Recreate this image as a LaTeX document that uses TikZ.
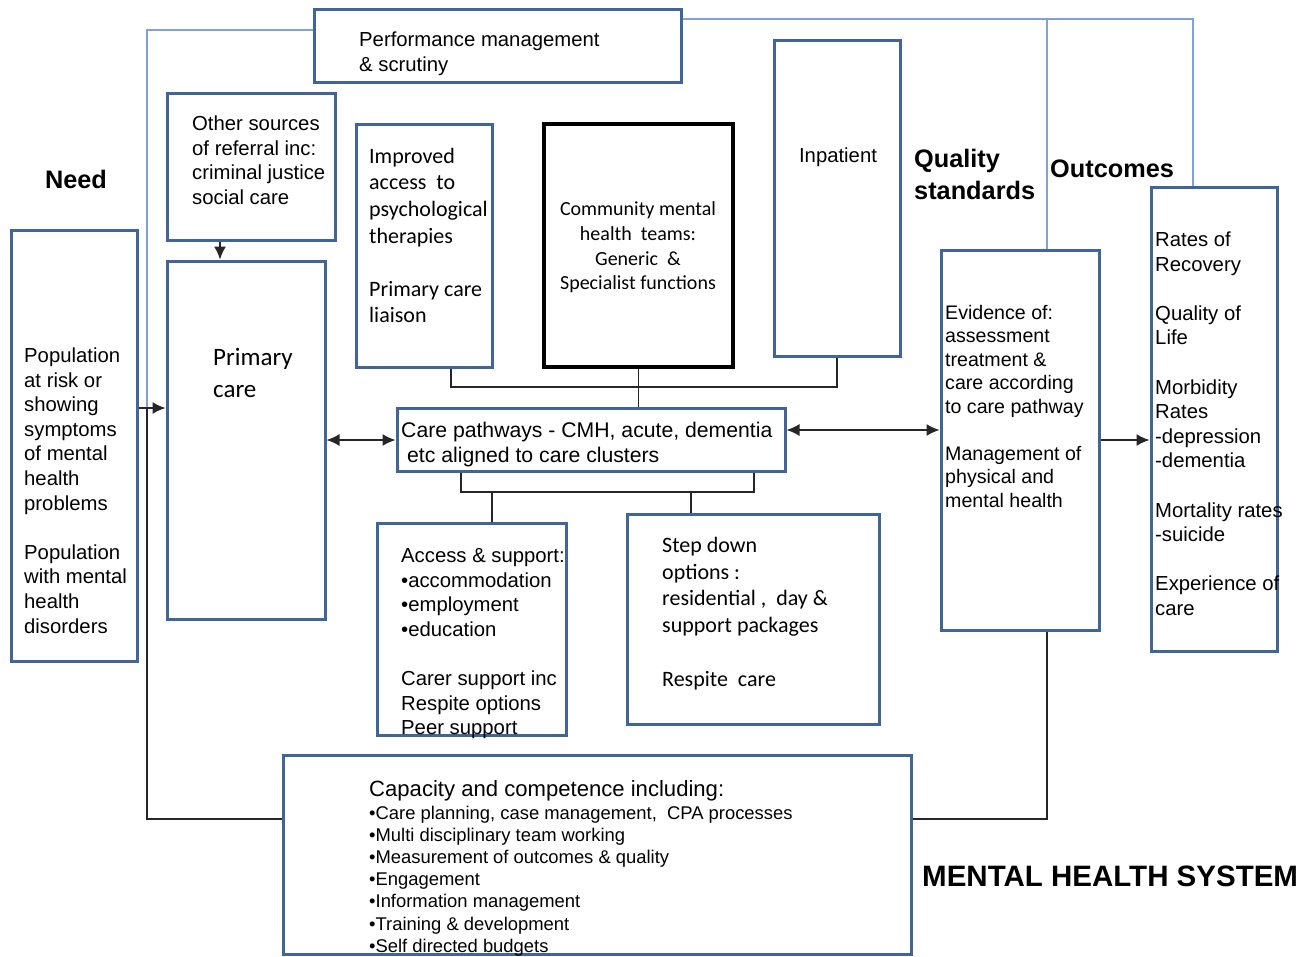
\documentclass[tikz,border=0pt]{standalone}
\usepackage{fontspec}
\setmainfont{Liberation Sans}
\newfontfamily\carl{Carlito}
\usetikzlibrary{arrows.meta}
\definecolor{boxblue}{HTML}{41659A}
\definecolor{lblue}{HTML}{7FA3D6}
\definecolor{connc}{HTML}{262626}
\newcommand{\mystrut}{\rule{0pt}{.75em}}
\begin{document}
\begin{tikzpicture}[x=1pt,y=-1pt,
  bx/.style={draw=boxblue,line width=3pt,inner sep=0pt},
  txt/.style={inner sep=0pt,align=left,anchor=north west},
  conn/.style={draw=connc,line width=1.4pt},
  lb/.style={draw=lblue,line width=1.3pt},
  arr/.style={conn,-{Latex[length=13pt,width=12pt]}},
  darr/.style={conn,{Latex[length=13pt,width=12pt]}-{Latex[length=13pt,width=12pt]}},
  fa/.style={font={\fontsize{20.3pt}{24.6pt}\selectfont}},
  hd/.style={font={\fontsize{25.3pt}{32pt}\selectfont\bfseries}}]
\useasboundingbox (0,0) rectangle (1308,956);
\fill[white] (0,0) rectangle (1308,956);

% boxes
\node[bx,minimum width=367pt,minimum height=73pt] (perf) at (497.5,45.5) {};
\node[bx,minimum width=126pt,minimum height=431pt] (pop) at (74,445.5) {};
\node[bx,minimum width=168pt,minimum height=147pt] (other) at (251,166.5) {};
\node[bx,minimum width=158pt,minimum height=358pt] (primary) at (246,440) {};
\node[bx,minimum width=136pt,minimum height=243pt] (iapt) at (424,245.5) {};
\node[draw=black,line width=3.5pt,inner sep=0pt,minimum width=189pt,minimum height=243pt] (cmht) at (638.5,245.5) {};
\node[bx,minimum width=126pt,minimum height=316pt] (inpat) at (837,198) {};
\node[bx,minimum width=158pt,minimum height=380pt] (evid) at (1020,440) {};
\node[bx,minimum width=126pt,minimum height=464pt] (outc) at (1214,419) {};
\node[bx,minimum width=388pt,minimum height=63pt] (path) at (591,439.5) {};
\node[bx,minimum width=189pt,minimum height=212pt] (access) at (471.5,629) {};
\node[bx,minimum width=252pt,minimum height=210pt] (step) at (753,619) {};
\node[bx,minimum width=628pt,minimum height=199pt] (cap) at (597,854.5) {};

% coordinates
\coordinate (a30) at (147,30);
\coordinate (a408) at (147,408);
\coordinate (a819) at (147,819);
\coordinate (b819) at (1047,819);
\coordinate (t19) at (1047,19);
\coordinate (r19) at (1193,19);
\coordinate (j1) at (451,387);
\coordinate (j2) at (837,387);
\coordinate (k1) at (461,492);
\coordinate (k2) at (754,492);
\coordinate (k3) at (492,492);
\coordinate (k4) at (691,492);
\coordinate (y430) at (0,430);
\coordinate (y440) at (0,440);
\coordinate (x220) at (220,0);

% connectors
\draw[lb] (perf.west |- a30) -- (a30) -- (a408);
\draw[conn] (a408) -- (a819) -- (cap.west |- a819);
\draw[conn] (cap.east |- b819) -- (b819) -- (evid.south -| b819);
\draw[lb] (perf.east |- t19) -- (r19) -- (outc.north -| r19);
\draw[lb] (t19) -- (evid.north -| t19);
\draw[conn] (iapt.south -| j1) -- (j1) -- (j2) -- (inpat.south -| j2);
\draw[conn] (cmht.south) -- (path.north -| cmht.south);
\draw[conn] (path.south -| k1) -- (k1) -- (k2) -- (path.south -| k2);
\draw[conn] (k3) -- (access.north -| k3);
\draw[conn] (k4) -- (step.north -| k4);
\draw[arr] (pop.east |- a408) -- (primary.west |- a408);
\draw[arr] (other.south -| x220) -- (primary.north -| x220);
\draw[darr] (primary.east |- y440) -- (path.west |- y440);
\draw[darr] (path.east |- y430) -- (evid.west |- y430);
\draw[arr] (evid.east |- y440) -- (outc.west |- y440);

% headings
\node[hd,inner sep=0pt] (need) at (76,179) {Need};
\node[hd,txt] (qs) at (914,148) {\mystrut Quality\\standards};
\node[hd,inner sep=0pt,anchor=west] (outh) at (1050,169) {Outcomes};
\node[inner sep=0pt,anchor=west,font={\fontsize{29.5pt}{34pt}\selectfont\bfseries}] (mhs) at (922,876) {MENTAL HEALTH SYSTEM};

% texts
\node[fa,txt] (tperf) at (359,31) {\mystrut Performance management\\\& scrutiny};
\node[fa,txt] (tother) at (192,115) {\mystrut Other sources\\of referral inc:\\criminal justice\\social care};
\node[fa,txt] (tpop) at (24,347) {\mystrut Population\\at risk or\\showing\\symptoms\\of mental\\health\\problems\\ \\Population\\with mental\\health\\disorders};
\node[txt,font={\carl\fontsize{25pt}{32pt}\selectfont}] (tprim) at (213,347) {\mystrut Primary\\care};
\node[txt,font={\carl\fontsize{22pt}{26.6pt}\selectfont}] (tiapt) at (369,146.5) {\mystrut Improved\\access~ to\\psychological\\therapies\\ \\Primary care\\liaison};
\node[inner sep=0pt,align=center,anchor=north,font={\carl\fontsize{20pt}{24.7pt}\selectfont}] (tcmht) at (638,200.5) {\mystrut Community mental\\health~ teams:\\Generic~ \&\\Specialist functions};
\node[fa,inner sep=0pt,anchor=base] (tinp) at (838,162) {Inpatient};
\node[txt,font={\fontsize{21.2pt}{25pt}\selectfont}] (tpath) at (401,421.8) {\mystrut Care pathways - CMH, acute, dementia\\\hspace*{6pt}etc aligned to care clusters};
\node[txt,font={\fontsize{19.6pt}{23.5pt}\selectfont}] (tevid) at (945,304.4) {\mystrut Evidence of:\\assessment\\treatment \&\\care according\\to care pathway\\ \\Management of\\physical and\\mental health};
\node[fa,txt] (toutc) at (1155,231) {\mystrut Rates of\\Recovery\\ \\Quality of\\Life\\ \\Morbidity\\Rates\\-depression\\-dementia\\ \\Mortality rates\\-suicide\\ \\Experience of\\care};
\node[fa,txt] (tacc) at (401,547) {\mystrut Access \& support:\\•accommodation\\•employment\\•education\\ \\Carer support inc\\Respite options\\Peer support};
\node[txt,font={\carl\fontsize{22pt}{26.8pt}\selectfont}] (tstep) at (662,535.5) {\mystrut Step down\\options :\\residential~,~ day \&\\support packages\\ \\Respite~~care};
\node[txt,font={\fontsize{22.1pt}{26pt}\selectfont}] (tcap) at (369,779.4) {\mystrut Capacity and competence including:};
\node[txt,font={\fontsize{18.4pt}{22.2pt}\selectfont}] (tcapl) at (369,805) {\mystrut •Care planning, case management,~ CPA processes\\•Multi disciplinary team working\\•Measurement of outcomes \& quality\\•Engagement\\•Information management\\•Training \& development\\•Self directed budgets};
\end{tikzpicture}
\end{document}
